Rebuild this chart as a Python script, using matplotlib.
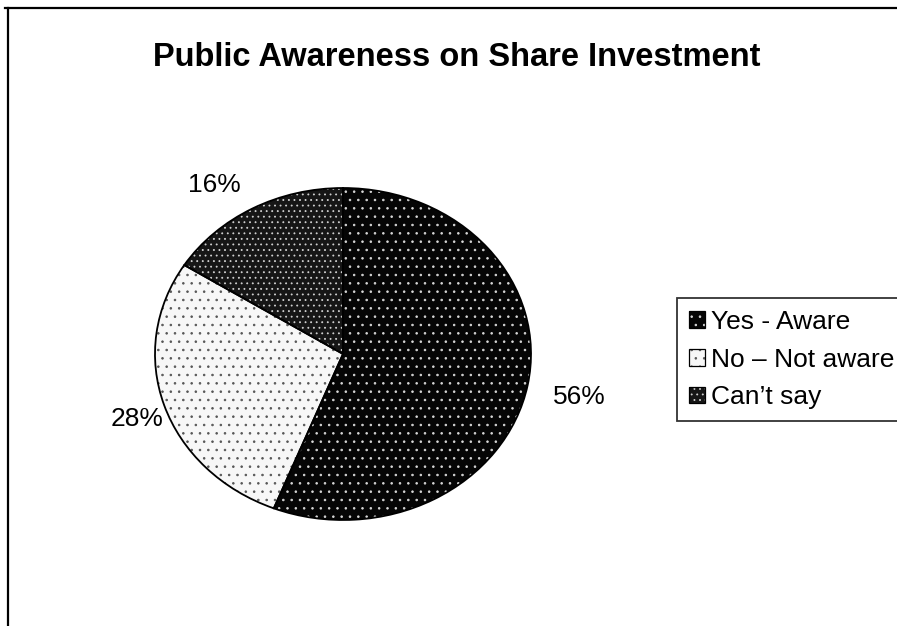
import matplotlib
matplotlib.use("Agg")
import matplotlib.pyplot as plt
from matplotlib.patches import Patch
from matplotlib.lines import Line2D
import numpy as np

plt.rcParams['font.family'] = ['Liberation Sans', 'DejaVu Sans']
plt.rcParams['hatch.linewidth'] = 0.6

categories = ["Yes - Aware", "No \u2013 Not aware", "Can\u2019t say"]
shares = [56, 28, 16]
value_labels = ["56%", "28%", "16%"]

face_colors = ["#050505", "#f7f7f7", "#161616"]
dot_colors = ["#d8d8d8", "#555555", "#d0d0d0"]
hatches = ["..", "..", "..."]

W, H = 897, 626
fig = plt.figure(figsize=(W / 100, H / 100), dpi=100)

# pie drawn as an ellipse: centre (343, 354) px, radii 188 x 166 px
cx, cy, rx, ry = 343, 354, 188, 166
k = 1.5
ax = fig.add_axes([(cx - k * rx) / W, (H - cy - k * ry) / H,
                   2 * k * rx / W, 2 * k * ry / H])

wedges, _ = ax.pie(shares, startangle=90, counterclock=False,
                   colors=face_colors,
                   wedgeprops=dict(linewidth=0))
for w, dc, h in zip(wedges, dot_colors, hatches):
    w.set_edgecolor(dc)
    w.set_hatch(h)
    w.set_linewidth(0)

outline, _ = ax.pie(shares, startangle=90, counterclock=False,
                    colors=["none"] * 3,
                    wedgeprops=dict(edgecolor="black", linewidth=1.3, fill=False))

ax.set_aspect('auto')
ax.set_xlim(-k, k)
ax.set_ylim(-k, k)
ax.axis('off')

# percentage labels placed outside each wedge
label_offsets = [(1.28, 1.38), (1.15, 1.27), (1.42, 1.16)]
for w, txt, (fx, fy) in zip(wedges, value_labels, label_offsets):
    mid = np.deg2rad((w.theta1 + w.theta2) / 2)
    ax.text(fx * np.cos(mid), fy * np.sin(mid), txt, ha='center', va='center',
            fontsize=19, color='black')

fig.text(457 / W, 1 - 57 / H, "Public Awareness on Share Investment",
         ha='center', va='center', fontsize=23.5, fontweight='bold')

# legend keys: hatched square with a black outline on top
handles = [(Patch(facecolor=fc, edgecolor=dc, hatch=h, linewidth=0),
            Patch(facecolor='none', edgecolor='black', linewidth=0.9))
           for fc, dc, h in zip(face_colors, dot_colors, hatches)]
leg = fig.legend(handles, categories, loc='upper left',
                 bbox_to_anchor=(677 / W, 1 - 298 / H),
                 fontsize=19, frameon=True, fancybox=False,
                 handlelength=0.6, handleheight=0.6, handletextpad=0.25,
                 borderpad=0.45, labelspacing=0.52, borderaxespad=0)
leg.get_frame().set_edgecolor('black')
leg.get_frame().set_linewidth(1.3)

# outer chart border (top and left edges)
fig.add_artist(Line2D([5 / W, 1], [1 - 8 / H, 1 - 8 / H], color='black', lw=1.6,
                      transform=fig.transFigure))
fig.add_artist(Line2D([8 / W, 8 / W], [0, 1 - 8 / H], color='black', lw=1.6,
                      transform=fig.transFigure))

fig.savefig("out.png", dpi=100, facecolor='white')
